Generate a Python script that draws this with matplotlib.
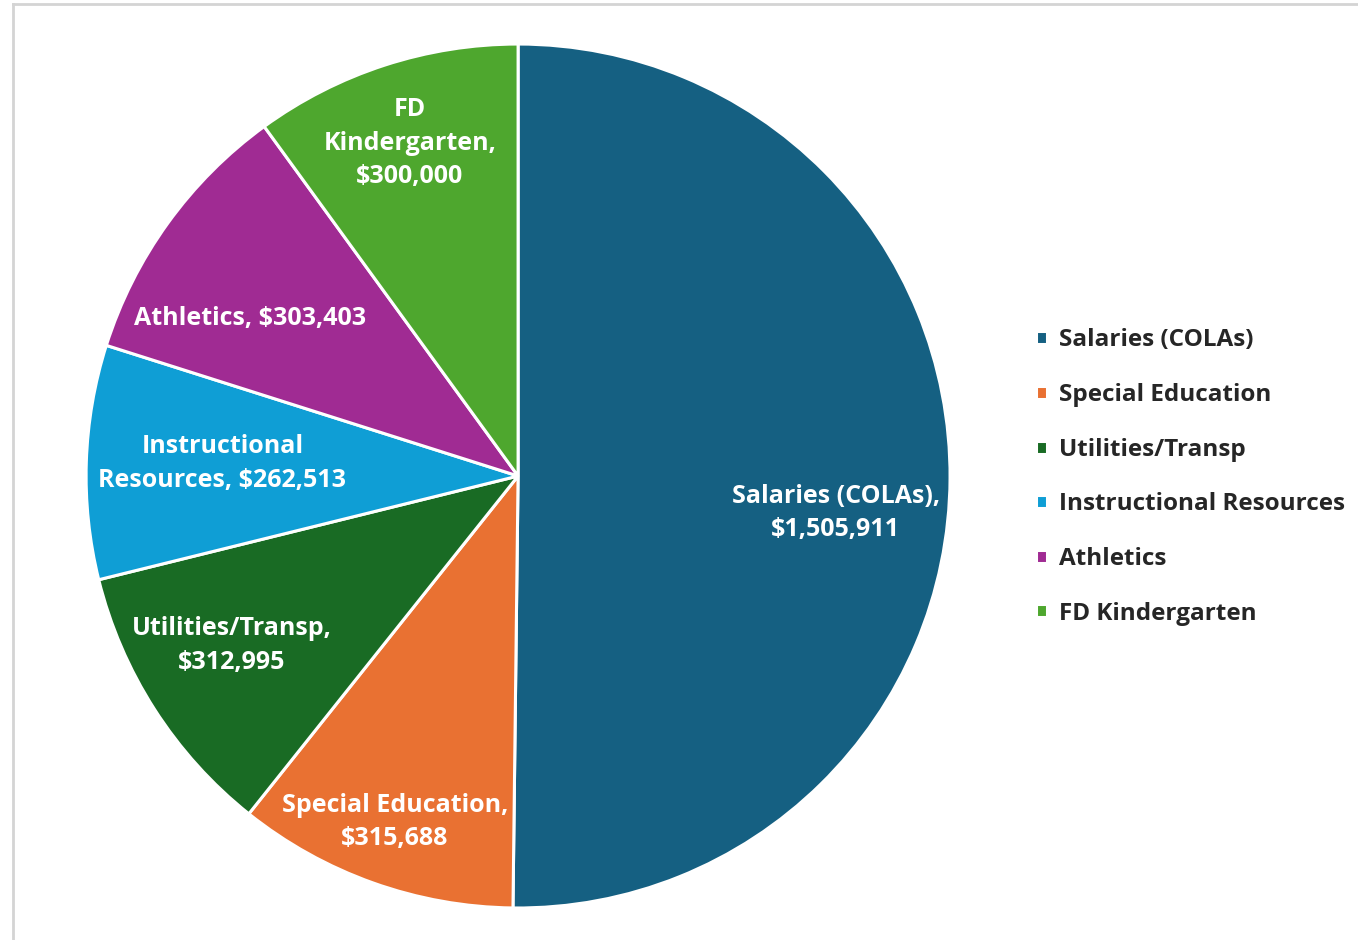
import matplotlib.pyplot as plt
import numpy as np
from matplotlib.lines import Line2D

categories = ['Salaries (COLAs)', 'Special Education', 'Utilities/Transp',
              'Instructional Resources', 'Athletics', 'FD Kindergarten']
values = [1505911, 315688, 312995, 262513, 303403, 300000]
label_text = ['Salaries (COLAs),\n$1,505,911', 'Special Education,\n$315,688',
              'Utilities/Transp,\n$312,995', 'Instructional\nResources, $262,513',
              'Athletics, $303,403', 'FD\nKindergarten,\n$300,000']
colors = ['#156082', '#E97132', '#196B24', '#0F9ED5', '#A02B93', '#4EA72E']

# label placement (radius fraction, angle nudge in degrees)
lab_r = [0.74, 0.85, 0.77, 0.685, 0.72, 0.81]
lab_da = [-6.3, 0, -2, -0.6, 5.3, 0]

plt.rcParams['font.family'] = ['Open Sans', 'DejaVu Sans']

fig = plt.figure(figsize=(13.58, 9.40), dpi=100)
ax = fig.add_axes([0.0634, 0.0340, 0.6362, 0.9192])

wedges, _ = ax.pie(values, colors=colors, startangle=90, counterclock=False,
                   wedgeprops=dict(edgecolor='white', linewidth=2.2))
ax.set_aspect('equal')
ax.set_xlim(-1, 1)
ax.set_ylim(-1, 1)

for w, txt, r, da in zip(wedges, label_text, lab_r, lab_da):
    mid = np.deg2rad((w.theta1 + w.theta2) / 2 + da)
    ax.text(r * np.cos(mid), r * np.sin(mid), txt, ha='center', va='center',
            color='white', fontsize=18, fontweight='bold', linespacing=1.45)

leg = fig.legend(wedges, categories, loc='center left', bbox_to_anchor=(0.747, 0.4925),
                 frameon=False, handlelength=0.45, handleheight=0.45,
                 handletextpad=0.5, labelspacing=1.26, prop=dict(weight='bold', size=17.5))
for t in leg.get_texts():
    t.set_color('#262626')

# light chart border
fig.add_artist(Line2D([12.5 / 1358, 1], [1 - 4 / 940, 1 - 4 / 940], color='#d4d4d4', lw=2))
fig.add_artist(Line2D([13 / 1358, 13 / 1358], [0, 1 - 4 / 940], color='#d4d4d4', lw=2))

fig.savefig('out.png', dpi=100, facecolor='white')
